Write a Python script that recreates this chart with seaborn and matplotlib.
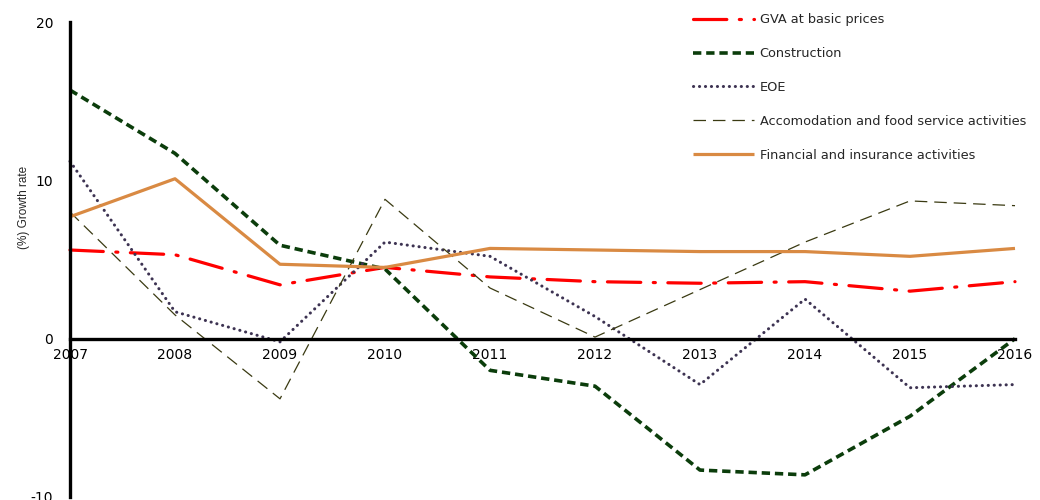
import matplotlib
matplotlib.use('Agg')
import matplotlib.pyplot as plt
import seaborn as sns
import pandas as pd

# Data (% growth rate)
years = [2007, 2008, 2009, 2010, 2011, 2012, 2013, 2014, 2015, 2016]
gva = [5.6, 5.3, 3.4, 4.5, 3.9, 3.6, 3.5, 3.6, 3.0, 3.6]
construction = [15.7, 11.7, 5.9, 4.4, -2.0, -3.0, -8.3, -8.6, -4.9, 0.0]
eoe = [11.2, 1.7, -0.2, 6.1, 5.2, 1.4, -2.9, 2.5, -3.1, -2.9]
accomodation = [8.0, 1.5, -3.8, 8.8, 3.2, 0.1, 3.1, 6.1, 8.7, 8.4]
financial = [7.7, 10.1, 4.7, 4.5, 5.7, 5.6, 5.5, 5.5, 5.2, 5.7]

series_names = ['GVA at basic prices', 'Construction', 'EOE',
                'Accomodation and food service activities',
                'Financial and insurance activities']
y_ticks = [-10, 0, 10, 20]

df = pd.DataFrame({'year': years,
                   series_names[0]: gva,
                   series_names[1]: construction,
                   series_names[2]: eoe,
                   series_names[3]: accomodation,
                   series_names[4]: financial})

sns.set_style('white')
plt.rcParams['font.family'] = ['DejaVu Sans']
plt.rcParams['lines.scale_dashes'] = False

# colour, width, dash pattern (points), cap style
styles = {
    series_names[0]: ('#ff0000', 2.3, (0, (24, 9, 1.5, 9)), 'round'),
    series_names[1]: ('#0b3d0b', 2.6, (0, (6, 3.5)), 'butt'),
    series_names[2]: ('#3d3352', 2.2, (0, (0.1, 4.2)), 'round'),
    series_names[3]: ('#3a3a12', 0.9, (0, (9, 5)), 'butt'),
    series_names[4]: ('#d98a43', 2.3, '-', 'butt'),
}

fig = plt.figure(figsize=(10.4, 5), dpi=100)
ax = fig.add_axes([70 / 1040, 3 / 500, 945 / 1040, 475 / 500])

for name in series_names:
    color, lw, ls, cap = styles[name]
    sns.lineplot(data=df, x='year', y=name, ax=ax, color=color, linewidth=lw,
                 linestyle=ls, solid_capstyle=cap, dash_capstyle=cap,
                 label=name, clip_on=False)

ax.set_xlim(2007, 2016)
ax.set_ylim(-10, 20)
ax.set_xticks(years)
ax.set_xticklabels([str(y) for y in years], fontsize=13.5)
ax.set_yticks(y_ticks)
ax.set_yticklabels([str(t) for t in y_ticks], fontsize=10)

ax.spines['top'].set_visible(False)
ax.spines['right'].set_visible(False)
ax.spines['bottom'].set_position(('data', 0))
for side in ['left', 'bottom']:
    ax.spines[side].set_linewidth(2.4)
    ax.spines[side].set_color('black')
ax.tick_params(axis='both', direction='out', length=3, width=2, color='black',
               labelcolor='black')
ax.tick_params(axis='x', pad=3.5)
ax.tick_params(axis='y', pad=9)

ax.set_xlabel('')
ax.set_ylabel('(%) Growth rate', fontsize=8.5, family='Liberation Sans')
ax.yaxis.set_label_coords(-0.042, 0.61)

leg = ax.legend(loc='upper left', bbox_to_anchor=(688 / 1040, 1 - 8 / 500),
                bbox_transform=fig.transFigure, frameon=False, fontsize=9.3,
                handlelength=4.7, handletextpad=0.45, labelspacing=1.62,
                borderaxespad=0)

fig.savefig('out.png', dpi=100, facecolor='white')
